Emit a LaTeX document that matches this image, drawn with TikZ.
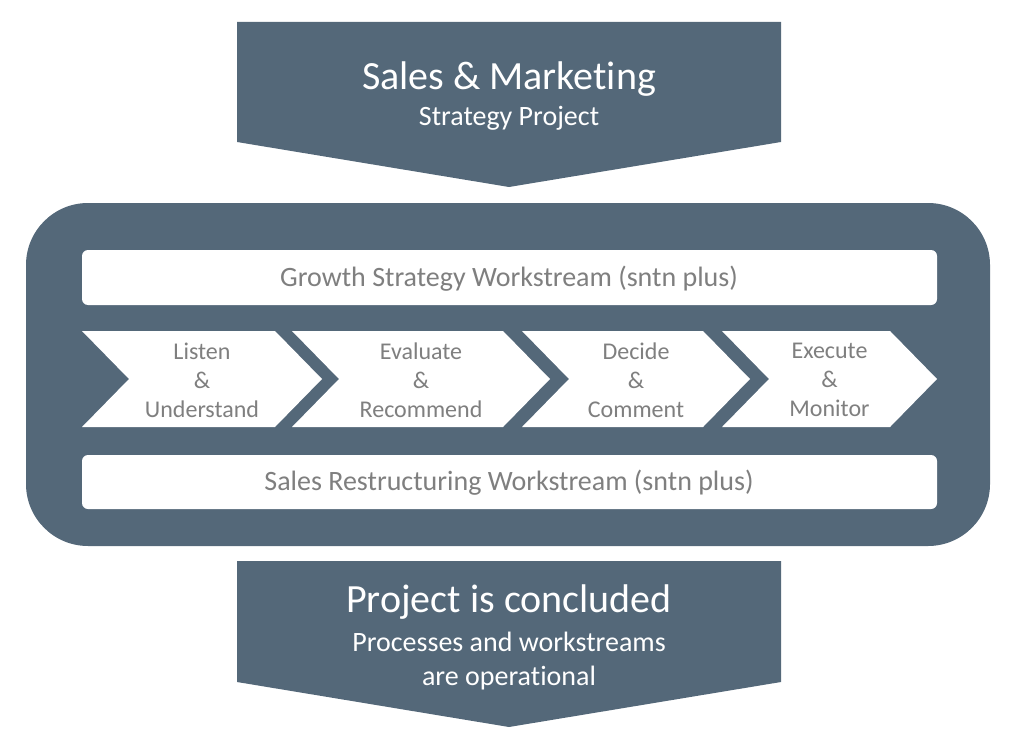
\documentclass[tikz,border=0pt]{standalone}
\usepackage{fontspec}
\setmainfont{Carlito}[Ligatures=NoCommon]
\definecolor{slate}{HTML}{546879}
\definecolor{ink}{HTML}{7F7F7F}
\begin{document}
\begin{tikzpicture}[
  x=1pt,
  y=-1pt,
  darkfill/.style={fill=slate},
  bar/.style={fill=white,rounded corners=6pt},
  chevron/.style={fill=white},
  bartext/.style={text=ink,font=\fontsize{28}{32}\selectfont},
  phasetext/.style={text=ink,align=center,font=\fontsize{24}{29}\selectfont},
  bannertext/.style={text=white,align=center}
]
  \useasboundingbox (0,0) rectangle (1016,746);

  % top and bottom banners
  \fill[darkfill] (237,22)--(781,22)--(781,142)--(509,187)--(237,142)--cycle;
  \fill[darkfill] (237,561)--(781,561)--(781,682)--(509,727)--(237,682)--cycle;

  % rounded frame
  \fill[darkfill,rounded corners=62pt] (26,203) rectangle (990,546);

  % workstream bars
  \fill[bar] (82,250) rectangle (937,305);
  \fill[bar] (82,455) rectangle (937,509);
  \node[bartext] (growth) at (509,279) {Growth Strategy Workstream (sntn plus)};
  \node[bartext] (restruct) at (509,483) {Sales Restructuring Workstream (sntn plus)};

  % process chevrons
  \foreach \l/\r/\n/\txt in {82/275/1/Listen\\\&\\Understand,
                            292/503/2/Evaluate\\\&\\Recommend,
                            522/703/3/Decide\\\&\\Comment,
                            722/890/4/Execute\\\&\\Monitor} {
    \fill[chevron] (\l,331)--(\r,331)--(\r+47,379)--(\r,427)--(\l,427)--(\l+47,379)--cycle;
    \node[phasetext] (phase\n) at ({(\l+47+\r)/2},380) {\txt};
  }

  % banner texts
  \node[bannertext,font=\fontsize{40}{44}\selectfont] (title) at (509,79) {Sales \& Marketing};
  \node[bannertext,font=\fontsize{28}{32}\selectfont] (subtitle) at (509,118) {Strategy Project};
  \node[bannertext,font=\fontsize{40}{44}\selectfont] (done) at (509,602) {Project is concluded};
  \node[bannertext,font=\fontsize{28}{34}\selectfont] (donenote) at (509,661) {Processes and workstreams\\are operational};
\end{tikzpicture}
\end{document}
